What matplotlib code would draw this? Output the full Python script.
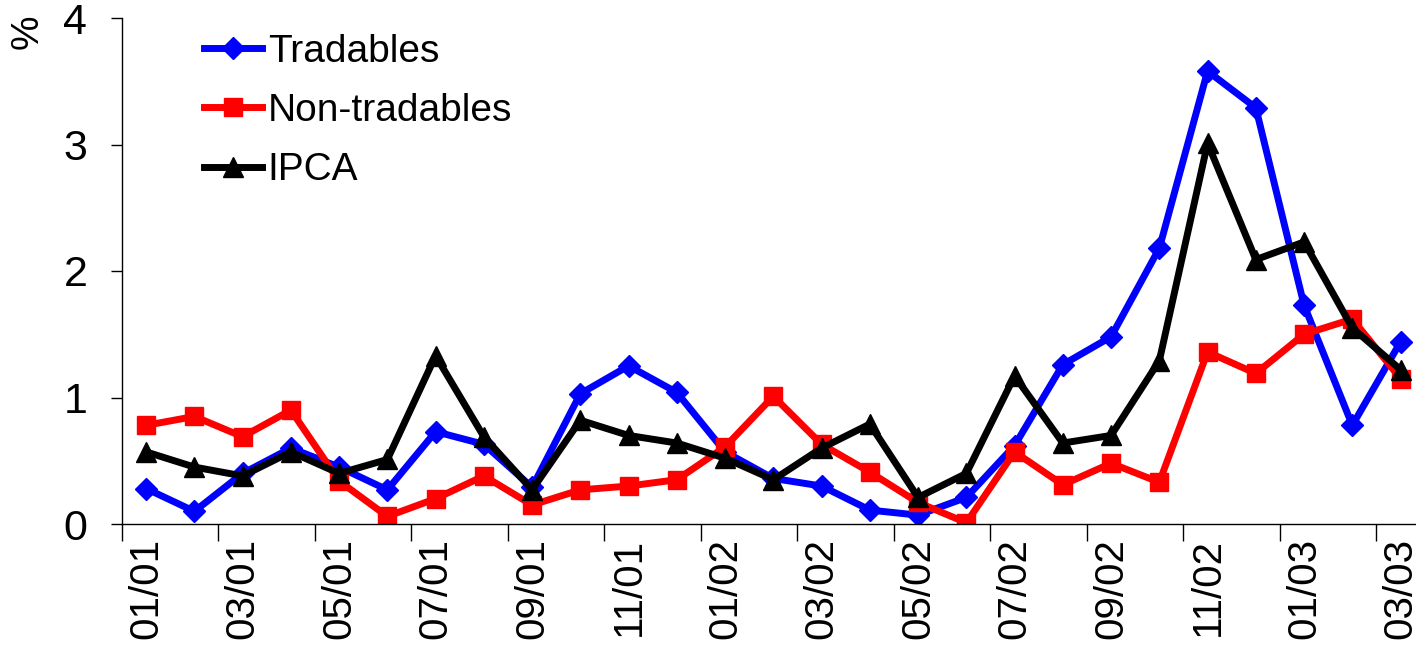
import matplotlib
matplotlib.use("Agg")
import matplotlib.pyplot as plt
from matplotlib.ticker import FixedLocator, NullFormatter

plt.rcParams['font.family'] = ['Liberation Sans', 'DejaVu Sans']

# Data (monthly % change, 01/01 .. 03/03)
months = ["01/01", "02/01", "03/01", "04/01", "05/01", "06/01", "07/01", "08/01", "09/01",
          "10/01", "11/01", "12/01", "01/02", "02/02", "03/02", "04/02", "05/02", "06/02",
          "07/02", "08/02", "09/02", "10/02", "11/02", "12/02", "01/03", "02/03", "03/03"]
tradables = [0.28, 0.10, 0.40, 0.60, 0.45, 0.27, 0.73, 0.63, 0.29, 1.03, 1.25, 1.04, 0.57,
             0.36, 0.30, 0.11, 0.07, 0.21, 0.62, 1.26, 1.48, 2.18, 3.58, 3.29, 1.73, 0.78, 1.44]
non_tradables = [0.78, 0.85, 0.69, 0.90, 0.34, 0.06, 0.20, 0.38, 0.15, 0.27, 0.30, 0.35, 0.61,
                 1.01, 0.63, 0.41, 0.17, 0.01, 0.57, 0.31, 0.48, 0.33, 1.36, 1.19, 1.50, 1.62, 1.15]
ipca = [0.57, 0.45, 0.38, 0.57, 0.40, 0.51, 1.33, 0.69, 0.27, 0.82, 0.70, 0.64, 0.52,
        0.35, 0.60, 0.79, 0.21, 0.40, 1.17, 0.64, 0.70, 1.29, 3.01, 2.09, 2.23, 1.55, 1.22]

x = [i + 0.5 for i in range(len(months))]

fig = plt.figure(figsize=(14.16, 6.5), dpi=100)
ax = fig.add_axes([122 / 1416, 126 / 650, 1 - 122 / 1416, 506 / 650])

ax.plot(x, tradables, color='#0000ff', lw=5, marker='D', ms=11, label='Tradables')
ax.plot(x, non_tradables, color='#ff0000', lw=5, marker='s', ms=13, label='Non-tradables')
ax.plot(x, ipca, color='black', lw=5, marker='^', ms=15, label='IPCA')

ax.set_ylim(0, 4)
ax.set_xlim(0, 26.82)
ax.set_yticks([0, 1, 2, 3, 4])
ax.tick_params(axis='y', labelsize=31, length=8, width=1, direction='out', pad=17)

# ticks at every second category boundary, labels on odd months
ax.xaxis.set_major_locator(FixedLocator(list(range(0, 27, 2))))
ax.xaxis.set_major_formatter(NullFormatter())
ax.set_xticks(x[::2], months[::2], minor=True)
ax.tick_params(axis='x', which='major', length=12, width=1, direction='out')
ax.tick_params(axis='x', which='minor', length=0, labelsize=29, rotation=90, pad=10)

for s in ['top', 'right']:
    ax.spines[s].set_visible(False)
for s in ['left', 'bottom']:
    ax.spines[s].set_linewidth(1)

fig.text(28 / 1416, 1 - 32 / 650, '%', fontsize=28, rotation=90, ha='center', va='center')

ax.legend(loc='upper left', bbox_to_anchor=(0.051, 1.0), frameon=False, fontsize=28,
          handlelength=1.5, handletextpad=0.15, labelspacing=0.6, borderaxespad=0)

fig.savefig('out.png', dpi=100)
